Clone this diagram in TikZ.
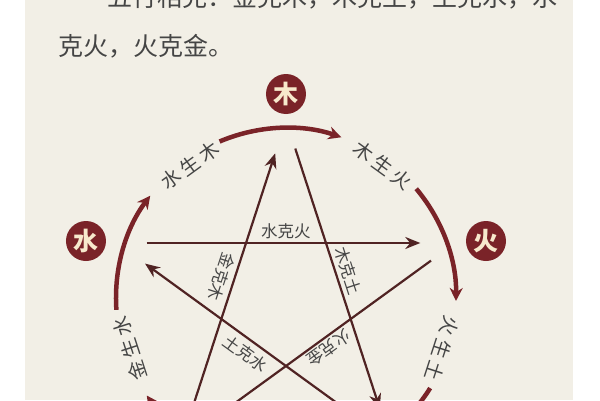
\documentclass[tikz,border=0pt]{standalone}
\usepackage{fontspec}
\setmainfont{Noto Sans CJK SC}
\usetikzlibrary{arrows.meta}
\definecolor{panel}{HTML}{F2EFE6}
\definecolor{wxred}{HTML}{7A2328}
\definecolor{cream}{HTML}{F7E9CC}
\definecolor{ink}{HTML}{454545}
\definecolor{kebrown}{HTML}{502323}
\begin{document}
\begin{tikzpicture}[x=1pt, y=1pt,
  element/.style={circle, fill=wxred, text=cream, minimum size=40pt, inner sep=0pt,
    font=\fontsize{25}{25}\selectfont\bfseries},
  sheng/.style={line width=4.5pt, draw=wxred, -{Stealth[length=13pt, width=13pt]}},
  ke/.style={line width=2.2pt, draw=kebrown, -{Stealth[length=15pt, width=12pt]},
    shorten <=30pt, shorten >=35pt},
  shenglabel/.style={text=ink, font=\fontsize{19.5}{19.5}\selectfont},
  kelabel/.style={text=ink, inner sep=2pt, font=\fontsize{16.5}{16.5}\selectfont},
  intro/.style={text=ink, inner sep=0pt, anchor=base west, font=\fontsize{25}{25}\selectfont}]
  % frame of the page
  \clip (-286,-102) rectangle (314,298);
  \fill[white] (-286,-102) rectangle (314,298);
  \fill[panel] (-261,-102) rectangle (287,298);

  % text above the figure
  \node[intro] (intro1) at (-179,292) {五行相克：金克木，木克土，土克水，水};
  \node[intro] (intro2) at (-228,243) {克火，火克金。};

  % points of the star
  \coordinate (vWood) at (90:178);
  \coordinate (vFire) at (18:178);
  \coordinate (vEarth) at (-54:178);
  \coordinate (vMetal) at (-126:178);
  \coordinate (vWater) at (162:178);

  % the five elements
  \node[element] (mu) at (0,204) {木};
  \node[element] (shui) at (-200,57) {水};
  \node[element] (huo) at (200,57) {火};

  % generating cycle
  \draw[sheng] (184:170) arc[start angle=184, end angle=143, radius=170];
  \draw[sheng] (113:170) arc[start angle=113, end angle=71, radius=170];
  \draw[sheng] (40:170) arc[start angle=40, end angle=-1, radius=170];
  \draw[sheng] (-32:170) arc[start angle=-32, end angle=-73, radius=170];
  \draw[sheng] (257:170) arc[start angle=257, end angle=215, radius=170];
  \node[shenglabel, rotate=36] (shuiShengMu) at (126:164) {水\hspace{4pt}生\hspace{4pt}木};
  \node[shenglabel, rotate=-36] (muShengHuo) at (54:164) {木\hspace{4pt}生\hspace{4pt}火};
  \node[shenglabel, rotate=-108] (huoShengTu) at (-18:164) {火\hspace{4pt}生\hspace{4pt}土};
  \node[shenglabel, rotate=108] (jinShengShui) at (198:164) {金\hspace{4pt}生\hspace{4pt}水};

  % controlling cycle
  \draw[ke] (vWater) -- node[kelabel, pos=0.5, above=1pt] (shuiKeHuo) {水克火} (vFire);
  \draw[ke] (vWood) -- node[kelabel, pos=0.48, sloped, above=2pt] (muKeTu) {木克土} (vEarth);
  \draw[ke] (vMetal) -- (vWood);
  \path (vWood) -- node[kelabel, pos=0.5, sloped, allow upside down, below=3pt] (jinKeMu) {金克木} (vMetal);
  \draw[ke] (vEarth) -- node[kelabel, pos=0.5, sloped, below=3pt] (tuKeShui) {土克水} (vWater);
  \draw[ke] (vFire) -- node[kelabel, pos=0.485, sloped, allow upside down, above=0pt] (huoKeJin) {火克金} (vMetal);
\end{tikzpicture}
\end{document}
